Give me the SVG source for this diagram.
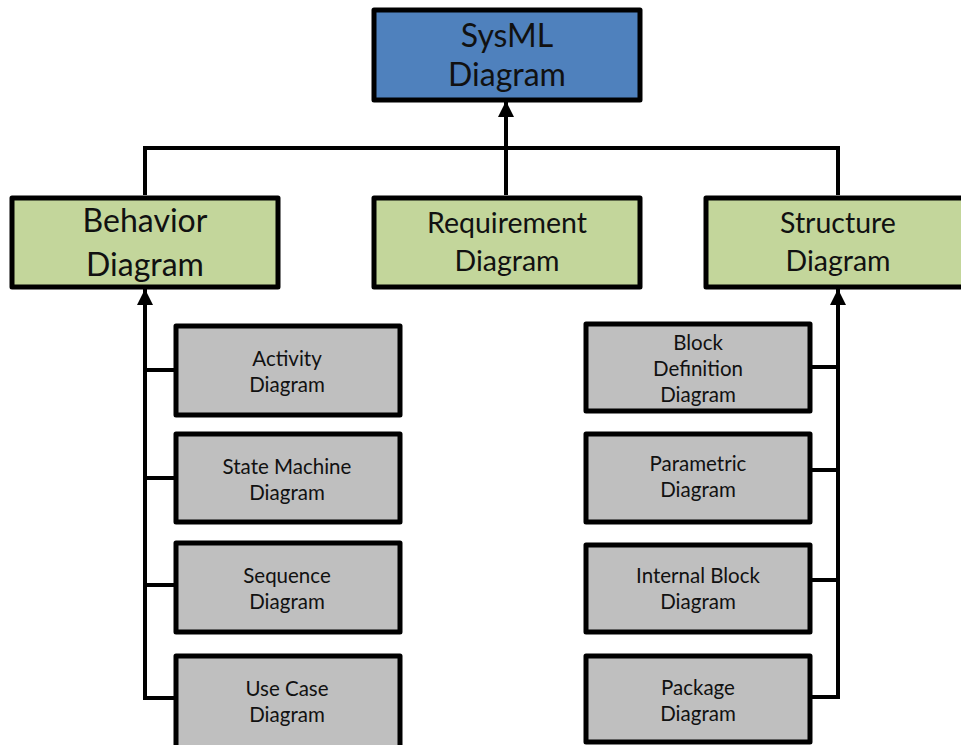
<svg xmlns="http://www.w3.org/2000/svg" width="961" height="745" viewBox="0 0 961 745">
  <style>
    .box { stroke: #000; stroke-width: 5; stroke-linejoin: round; }
    .top { fill: #4F81BD; }
    .mid { fill: #C3D69B; }
    .leaf { fill: #BFBFBF; }
    .wire { fill: none; stroke: #000; stroke-width: 4; }
    text { font-family: Lato, "Open Sans", "Liberation Sans", sans-serif; fill: #111; text-anchor: middle; }
    .t1 { font-size: 32px; }
    .t2 { font-size: 28.5px; }
    .t3 { font-size: 20.5px; }
  </style>
  <defs>
    <marker id="arrow" viewBox="0 0 10 10" refX="10" refY="5" markerWidth="4" markerHeight="4" orient="auto" markerUnits="strokeWidth">
      <path d="M0,0 L10,5 L0,10 z" fill="#000"/>
    </marker>
  </defs>

  <rect width="961" height="745" fill="#fff"/>

  <g id="connectors">
    <path class="wire" d="M145,195 V148 H838 V195"/>
    <path class="wire" d="M506,195 V101" marker-end="url(#arrow)"/>
    <path class="wire" d="M175,698 H145 V289" marker-end="url(#arrow)"/>
    <path class="wire" d="M145,370 H175 M145,478 H175 M145,585 H175"/>
    <path class="wire" d="M810,697 H838 V289" marker-end="url(#arrow)"/>
    <path class="wire" d="M810,367 H838 M810,470 H838 M810,580 H838"/>
  </g>

  <g id="sysml">
    <rect class="box top" x="374" y="10" width="266" height="90"/>
    <text class="t1" x="507" y="47">SysML</text>
    <text class="t1" x="507" y="86">Diagram</text>
  </g>

  <g id="behavior">
    <rect class="box mid" x="12" y="198" width="266" height="89"/>
    <text class="t1" x="145" y="232">Behavior</text>
    <text class="t1" x="145" y="276">Diagram</text>
  </g>
  <g id="requirement">
    <rect class="box mid" x="374" y="198" width="266" height="89"/>
    <text class="t2" x="507" y="233">Requirement</text>
    <text class="t2" x="507" y="271">Diagram</text>
  </g>
  <g id="structure">
    <rect class="box mid" x="706" y="198" width="262" height="89"/>
    <text class="t2" x="838" y="233">Structure</text>
    <text class="t2" x="838" y="271">Diagram</text>
  </g>

  <g id="activity">
    <rect class="box leaf" x="176" y="326" width="224" height="89"/>
    <text class="t3" x="287" y="366">Activity</text>
    <text class="t3" x="287" y="392">Diagram</text>
  </g>
  <g id="state-machine">
    <rect class="box leaf" x="176" y="434" width="224" height="88"/>
    <text class="t3" x="287" y="474">State Machine</text>
    <text class="t3" x="287" y="500">Diagram</text>
  </g>
  <g id="sequence">
    <rect class="box leaf" x="176" y="543" width="224" height="89"/>
    <text class="t3" x="287" y="583">Sequence</text>
    <text class="t3" x="287" y="609">Diagram</text>
  </g>
  <g id="use-case">
    <rect class="box leaf" x="176" y="656" width="224" height="92"/>
    <text class="t3" x="287" y="696">Use Case</text>
    <text class="t3" x="287" y="722">Diagram</text>
  </g>

  <g id="block-definition">
    <rect class="box leaf" x="586" y="324" width="224" height="87"/>
    <text class="t3" x="698" y="350">Block</text>
    <text class="t3" x="698" y="376">Definition</text>
    <text class="t3" x="698" y="402">Diagram</text>
  </g>
  <g id="parametric">
    <rect class="box leaf" x="586" y="434" width="224" height="88"/>
    <text class="t3" x="698" y="471">Parametric</text>
    <text class="t3" x="698" y="497">Diagram</text>
  </g>
  <g id="internal-block">
    <rect class="box leaf" x="586" y="545" width="224" height="87"/>
    <text class="t3" x="698" y="583">Internal Block</text>
    <text class="t3" x="698" y="609">Diagram</text>
  </g>
  <g id="package">
    <rect class="box leaf" x="586" y="656" width="224" height="86"/>
    <text class="t3" x="698" y="695">Package</text>
    <text class="t3" x="698" y="721">Diagram</text>
  </g>
</svg>
